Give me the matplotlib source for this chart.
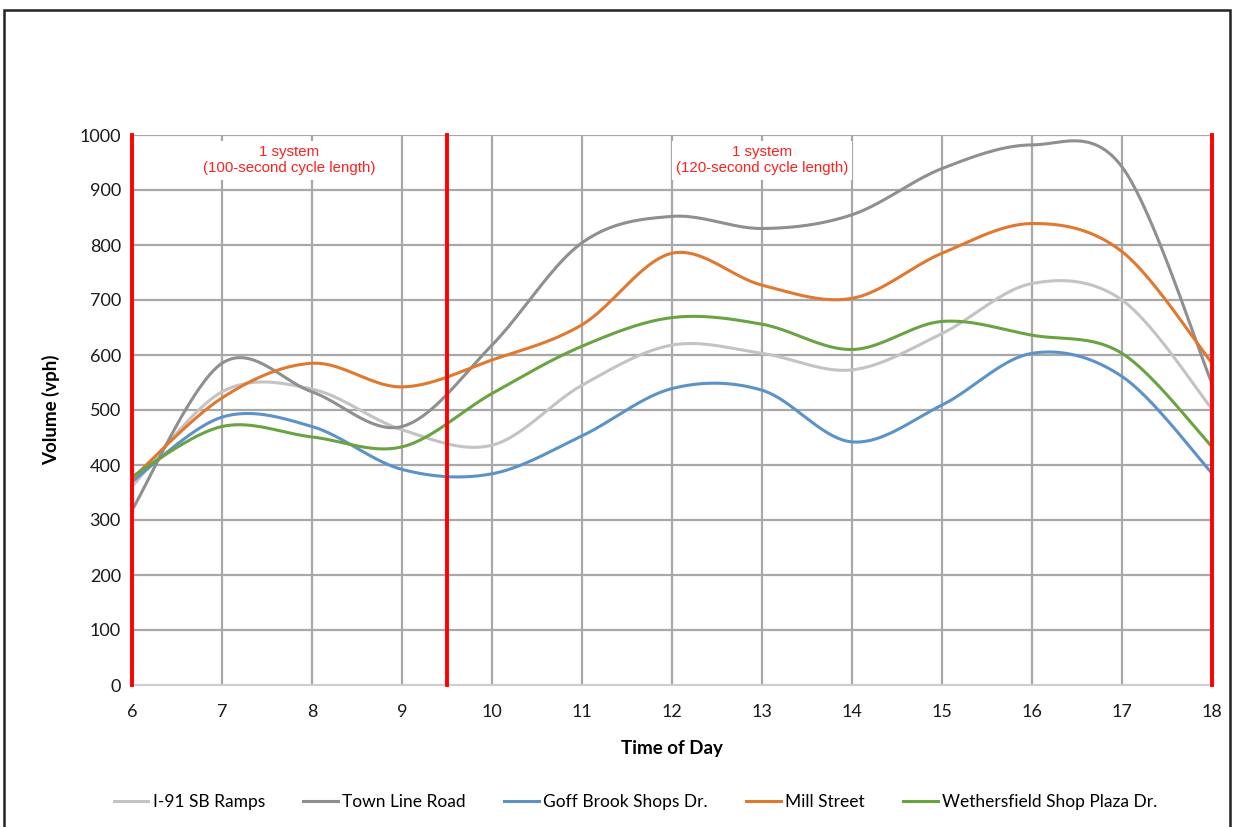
import numpy as np
import matplotlib
matplotlib.use("Agg")
import matplotlib.pyplot as plt
from matplotlib.patches import Rectangle
from matplotlib.lines import Line2D

plt.rcParams["font.family"] = ["Lato", "DejaVu Sans"]

hours = [6, 7, 8, 9, 10, 11, 12, 13, 14, 15, 16, 17, 18]
i91_sb_ramps = [361, 533, 538, 464, 436, 545, 618, 603, 573, 639, 730, 700, 502]
town_line_road = [318, 585, 533, 470, 618, 804, 852, 830, 855, 939, 982, 942, 548]
goff_brook = [370, 487, 470, 392, 384, 453, 539, 536, 442, 509, 603, 561, 385]
mill_street = [375, 522, 585, 542, 591, 655, 785, 727, 703, 785, 839, 788, 585]
wethersfield = [379, 470, 451, 433, 530, 616, 668, 656, 610, 661, 636, 603, 433]

series_names = ["I-91 SB Ramps", "Town Line Road", "Goff Brook Shops Dr.",
                "Mill Street", "Wethersfield Shop Plaza Dr."]
series_values = [i91_sb_ramps, town_line_road, goff_brook, mill_street, wethersfield]
series_colors = ["#c3c3c3", "#8f8f8f", "#5b93c8", "#e07830", "#6aa342"]

plan_breaks = [6, 9.5, 18]
plan_labels = ["1 system\n(100-second cycle length)", "1 system\n(120-second cycle length)"]
plan_label_x = [7.75, 13.0]


def smooth_curve(x, y, steps=40):
    """Spreadsheet-style smoothed line: cubic Bezier through every point."""
    x = np.asarray(x, float)
    y = np.asarray(y, float)
    px = np.concatenate([[x[0]], x, [x[-1]]])
    py = np.concatenate([[y[0]], y, [y[-1]]])
    t = np.linspace(0, 1, steps)
    out_x, out_y = [], []
    for i in range(len(x) - 1):
        p0 = np.array([px[i], py[i]])
        p1 = np.array([px[i + 1], py[i + 1]])
        p2 = np.array([px[i + 2], py[i + 2]])
        p3 = np.array([px[i + 3], py[i + 3]])
        c1 = p1 + (p2 - p0) / 6.0
        c2 = p2 - (p3 - p1) / 6.0
        b = ((1 - t) ** 3)[:, None] * p1 + (3 * (1 - t) ** 2 * t)[:, None] * c1 \
            + (3 * (1 - t) * t ** 2)[:, None] * c2 + (t ** 3)[:, None] * p2
        out_x.append(b[:, 0])
        out_y.append(b[:, 1])
    return np.concatenate(out_x), np.concatenate(out_y)


fig = plt.figure(figsize=(12.34, 8.27), dpi=100)
fig.patches.append(Rectangle((4 / 1234, -0.05), 1226 / 1234, 1.05 - 10 / 827,
                             transform=fig.transFigure, fill=False,
                             edgecolor="#222222", linewidth=1.8))

ax = fig.add_axes([132 / 1234, 1 - 685 / 827, 1080 / 1234, 550 / 827])
ax.set_xlim(6, 18)
ax.set_ylim(0, 1000)

grid_color = "#a8a8a8"
for v in range(7, 18):
    ax.axvline(v, color=grid_color, lw=1.6, zorder=1)
for v in range(100, 1001, 100):
    ax.axhline(v, color=grid_color, lw=1.6, zorder=1)

for name, vals, col in zip(series_names, series_values, series_colors):
    sx, sy = smooth_curve(hours, vals)
    ax.plot(sx, sy, color=col, lw=2.2, zorder=3, label=name, solid_capstyle="round")

for b in plan_breaks:
    ax.axvline(b, color="#ff0000", lw=2.8, zorder=5, clip_on=False)

for lx, txt in zip(plan_label_x, plan_labels):
    ax.text(lx, 954, txt, color="#ff2020", fontsize=10.8, ha="center", va="center",
            family=["Liberation Sans", "DejaVu Sans"], linespacing=1.2, zorder=4,
            bbox=dict(facecolor="white", edgecolor="none", pad=3))

for s in ["top", "right", "left"]:
    ax.spines[s].set_visible(False)
ax.spines["bottom"].set_color("#cfcfcf")
ax.spines["bottom"].set_linewidth(1.6)

ax.set_xticks(range(6, 19))
ax.set_yticks(range(0, 1001, 100))
ax.tick_params(length=0, labelsize=13, colors="#1a1a1a", pad=8)
ax.tick_params(axis="x", pad=14)
ax.set_xlabel("Time of Day", fontsize=13.5, fontweight="bold", labelpad=14)
ax.set_ylabel("Volume (vph)", fontsize=13.5, fontweight="bold", labelpad=14)

handles = [Line2D([0], [0], color=c, lw=2.2) for c in series_colors]
fig.legend(handles, series_names, loc="center", bbox_to_anchor=(0.515, 1 - 802 / 827),
           ncol=5, frameon=False, fontsize=12.5, handlelength=2.0,
           handletextpad=0.25, columnspacing=2.2)

fig.savefig("out.png", dpi=100)
